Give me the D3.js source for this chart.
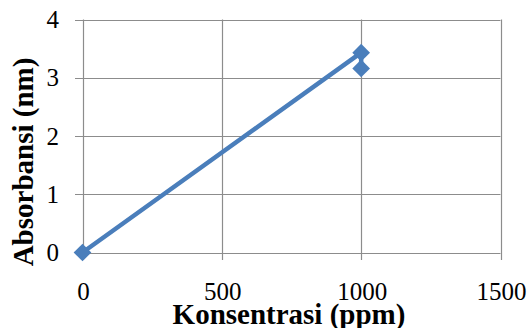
<!DOCTYPE html>
<html><head><meta charset="utf-8"><script src="https://cdn.jsdelivr.net/npm/d3@7"></script></head>
<body style="margin:0">
<svg id="s" width="529" height="328" style="display:block;background:#fff"></svg>
<script>
const konsentrasi = [0, 1000, 1000];
const absorbansi = [0, 3.43, 3.16];
const xTicks = [0, 500, 1000, 1500];
const yTicks = [0, 1, 2, 3, 4];
const xTitle = "Konsentrasi (ppm)";
const yTitle = "Absorbansi (nm)";

const svg = d3.select("#s");
const x = d3.scaleLinear().domain([0, 1500]).range([82.5, 500.5]);
const y = d3.scaleLinear().domain([0, 4]).range([252.5, 19.5]);
const grid = "#8c8c8c";
const blue = "#4a7ebb";
const FONT = "Liberation Serif";

svg.append("g").selectAll("line").data(yTicks).join("line")
  .attr("x1", 75).attr("x2", x(1500))
  .attr("y1", d => Math.round(y(d)) + 0.5).attr("y2", d => Math.round(y(d)) + 0.5)
  .attr("stroke", grid).attr("stroke-width", 1.2);

svg.append("g").selectAll("line").data(xTicks).join("line")
  .attr("y1", y(4)).attr("y2", 260)
  .attr("x1", d => Math.round(x(d)) + 0.5).attr("x2", d => Math.round(x(d)) + 0.5)
  .attr("stroke", grid).attr("stroke-width", 1.2);

svg.append("g").selectAll("text").data(yTicks).join("text")
  .attr("x", 59).attr("y", d => y(d) + 8.5)
  .attr("text-anchor", "end")
  .attr("font-family", FONT).attr("font-size", 25)
  .text(d => String(d));

svg.append("g").selectAll("text").data(xTicks).join("text")
  .attr("x", d => x(d) + 1).attr("y", 300)
  .attr("text-anchor", "middle")
  .attr("font-family", FONT).attr("font-size", 25)
  .text(d => String(d));

svg.append("text")
  .attr("x", 289).attr("y", 324)
  .attr("text-anchor", "middle")
  .attr("font-family", FONT).attr("font-size", 29).attr("font-weight", "bold")
  .text(xTitle);

svg.append("text")
  .attr("transform", "translate(33,162) rotate(-90)")
  .attr("text-anchor", "middle")
  .attr("font-family", FONT).attr("font-size", 29).attr("font-weight", "bold")
  .text(yTitle);

const pts = konsentrasi.map((k, i) => [k, absorbansi[i]]);
svg.append("path")
  .datum(pts)
  .attr("d", d3.line().x(d => x(d[0])).y(d => y(d[1])))
  .attr("fill", "none").attr("stroke", blue)
  .attr("stroke-width", 4.5).attr("stroke-linejoin", "round");

const diamond = d3.symbol().type(d3.symbolDiamond2).size(200);
svg.append("g").selectAll("path").data(pts).join("path")
  .attr("transform", d => `translate(${x(d[0])},${y(d[1])})`)
  .attr("d", diamond)
  .attr("fill", blue);
</script>
</body></html>
